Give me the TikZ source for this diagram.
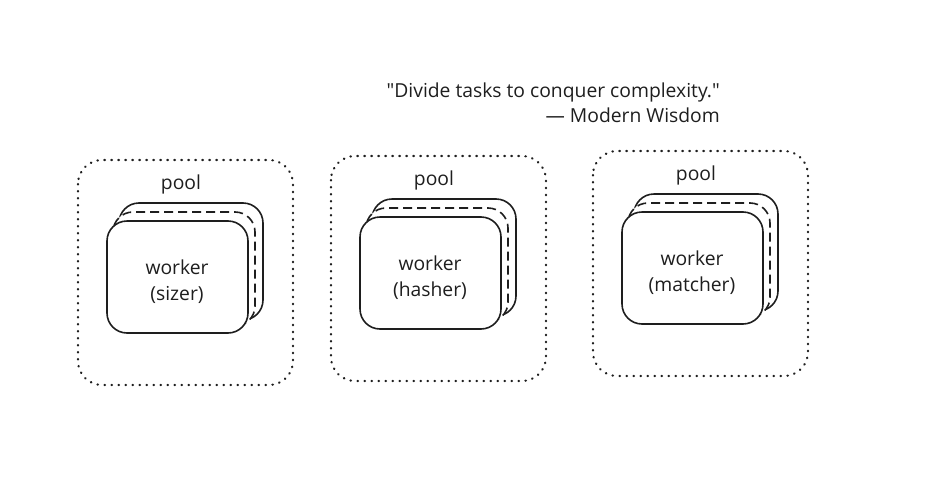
\documentclass[tikz,border=0pt]{standalone}
\usepackage{fontspec}
\newfontfamily\opensans{Open Sans}
\definecolor{ink}{HTML}{1E1E1E}
\tikzset{
  poolbox/.style={draw=ink, line width=2.2pt, dash pattern=on 0.6pt off 6.4pt, line cap=round, rounded corners=24pt},
  card/.style={draw=ink, line width=1.6pt, fill=white, rounded corners=20pt},
  lbl/.style={text=ink, inner sep=0pt, align=center}
}
\begin{document}
\begin{tikzpicture}[x=1pt, y=-1pt, font=\opensans\fontsize{19.3}{26}\selectfont]
	\useasboundingbox (0,0) rectangle (929,498);
	% the quote
	\node[lbl, anchor=base east] (quote) at (720,97) {"Divide tasks to conquer complexity."};
	\node[lbl, anchor=base east] (author) at (720,122) {— Modern Wisdom};
	% three pools, one worker stack each
	\foreach \n/\dx/\dy/\job in {a/0/0/sizer, b/253/-4/hasher, c/515/-9/matcher}{
		\begin{scope}[shift={(\dx,\dy)}]
			\draw[poolbox] (78,160) rectangle (293,385);
			\draw[card] (119,203) rectangle (263,320);
			\draw[card, dash pattern=on 9pt off 5pt] (113,212) rectangle (255,326);
			\draw[card] (107,221) rectangle (248,333);
			\node[lbl] (pool-\n) at (181,184) {pool};
			\node[lbl] (worker-\n) at (177,282) {worker\\(\job)};
		\end{scope}
	}
\end{tikzpicture}
\end{document}
